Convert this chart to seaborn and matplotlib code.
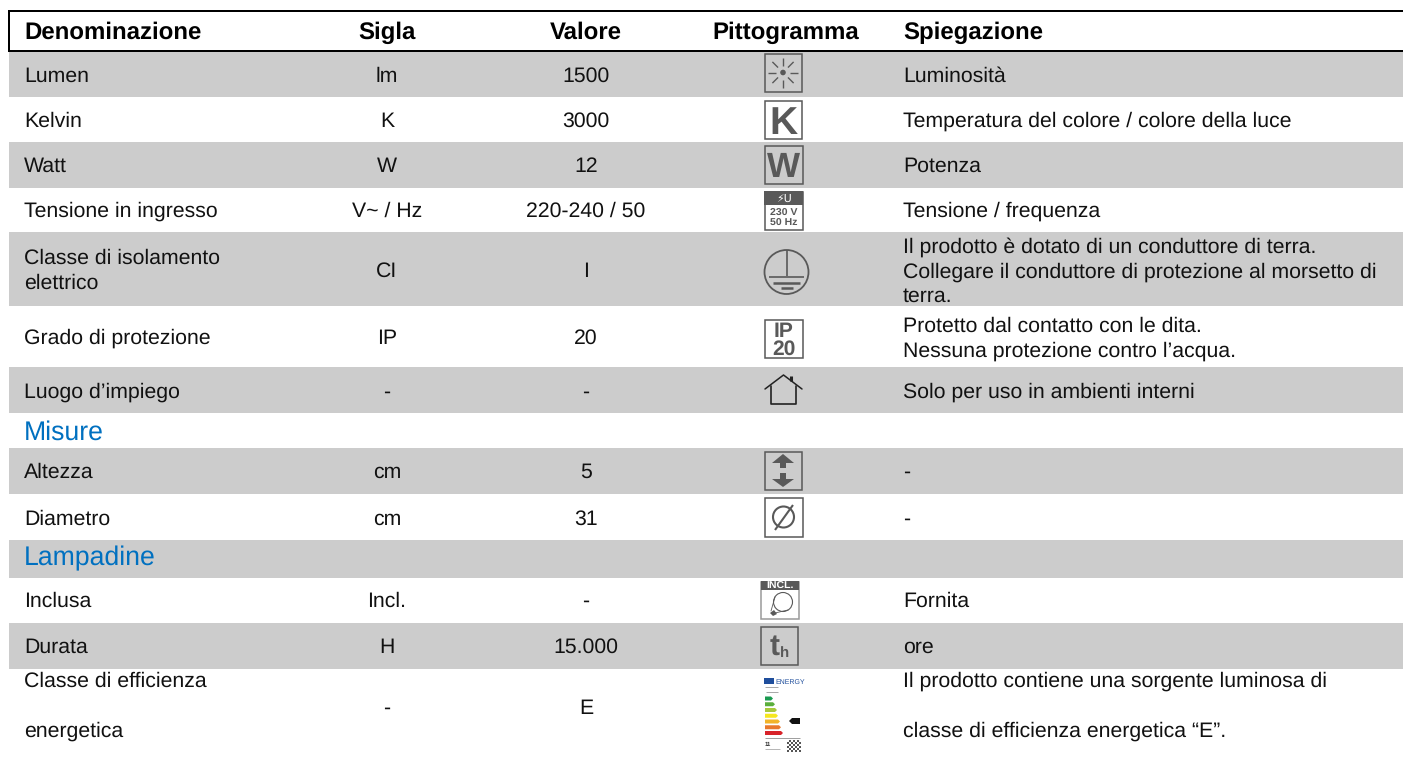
import numpy as np
import matplotlib

matplotlib.use('Agg')
import matplotlib.pyplot as plt
import seaborn as sns
from matplotlib.colors import ListedColormap
from matplotlib.patches import Circle, Polygon, Rectangle

# table content
headers = ['Denominazione', 'Sigla', 'Valore', 'Pittogramma', 'Spiegazione']
names = ['Lumen', 'Kelvin', 'Watt', 'Tensione in ingresso', 'Classe di isolamento\nelettrico',
         'Grado di protezione', 'Luogo d’impiego', 'Altezza', 'Diametro', 'Inclusa', 'Durata',
         'Classe di efficienza\n\nenergetica']
symbols = ['lm', 'K', 'W', 'V~ / Hz', 'CI', 'IP', '-', 'cm', 'cm', 'Incl.', 'H', '-']
values = ['1500', '3000', '12', '220-240 / 50', 'I', '20', '-', '5', '31', '-', '15.000', 'E']
notes = ['Luminosità', 'Temperatura del colore / colore della luce', 'Potenza', 'Tensione / frequenza',
         'Il prodotto è dotato di un conduttore di terra.\nCollegare il conduttore di protezione al morsetto di\nterra.',
         'Protetto dal contatto con le dita.\nNessuna protezione contro l’acqua.',
         'Solo per uso in ambienti interni', '-', '-', 'Fornita', 'ore',
         'Il prodotto contiene una sorgente luminosa di\n\nclasse di efficienza energetica “E”.']
sections = ['Misure', 'Lampadine']

# layout, pixels from the top
row_edges = [0, 52, 97, 142, 188, 232, 306, 367, 413, 448, 494, 540, 578, 623, 669, 760]
row_shade = [0, 1, 0, 1, 0, 1, 0, 1, 0, 1, 0, 1, 0, 1, 0]
name_base = [82, 127, 172, 217, 264, 344, 398, 478, 525, 607, 653, 687]
mid_base = [82, 127, 172, 217, 277, 344, 398, 478, 525, 607, 653, 714]
note_base = [82, 127, 172, 217, 253, 332, 398, 478, 525, 607, 653, 687]
section_base = [440, 565]
line_gap = [0, 0, 0, 0, 25, 0, 0, 0, 0, 0, 0, 25]
note_gap = [0, 0, 0, 0, 24.5, 25, 0, 0, 0, 0, 0, 25]

# energy label bars
bar_colors = ['#1a9a50', '#5aae3c', '#a8c83c', '#f6e71e', '#f2b42a', '#e8782c', '#d8232a']
bar_widths = [8, 10, 12, 13, 15, 16, 18]

GREY = '#595959'
INK = '#111111'
BLUE = '#0070c0'
PX = 72 / 100

sns.set_theme(style='white')
plt.rcParams['font.family'] = ['Liberation Sans', 'DejaVu Sans']
plt.rcParams['text.hinting'] = 'none'

fig = plt.figure(figsize=(14.03, 7.6), dpi=100)
fig.patch.set_facecolor('white')

# grey bands are a one column heatmap, one cell per pixel row
bands = np.repeat(row_shade, np.diff(row_edges)).reshape(-1, 1)
ax_bands = fig.add_axes([9 / 1403, 0, 1 - 9 / 1403, 1])
sns.heatmap(bands, ax=ax_bands, cbar=False, cmap=ListedColormap(['white', '#cccccc']), vmin=0, vmax=1,
            xticklabels=False, yticklabels=False)

ax = fig.add_axes([0, 0, 1, 1])
ax.set_xlim(0, 1403)
ax.set_ylim(760, 0)
ax.axis('off')
ax.patch.set_alpha(0)

# header frame
ax.add_patch(Rectangle((8, 10), 1395, 2, color='black', lw=0))
ax.add_patch(Rectangle((8, 50), 1395, 2, color='black', lw=0))
ax.add_patch(Rectangle((8, 10), 2, 42, color='black', lw=0))


def label(x, y, s, size=21.33, ha='left', **kw):
    ax.text(x, y, s, fontsize=size * PX, ha=ha, va='baseline', color=kw.pop('color', INK), **kw)


def multi(x, y, s, gap, ha='left'):
    for i, part in enumerate(s.split('\n')):
        if part:
            label(x, y + i * gap, part, ha=ha)


for x, s, ha in zip([24, 387, 586, 786, 903], headers, ['left', 'center', 'center', 'center', 'left']):
    label(x, 39, s, size=24, ha=ha, weight='bold', color='black')

for i in range(len(names)):
    multi(24, name_base[i], names[i], line_gap[i])
    label(387, mid_base[i], symbols[i], ha='center')
    label(586, mid_base[i], values[i], ha='center')
    multi(903, note_base[i], notes[i], note_gap[i])

for s, y in zip(sections, section_base):
    label(24, y, s, size=26.67, color=BLUE)


# pictograms
def box(x0, y0, x1, y1, fc='none', ec=GREY, lw=1.1):
    ax.add_patch(Rectangle((x0, y0), x1 - x0, y1 - y0, fc=fc, ec=ec, lw=lw))


def seg(x0, y0, x1, y1, lw=1.3, c=GREY):
    ax.plot([x0, x1], [y0, y1], color=c, lw=lw, solid_capstyle='butt')


# sun
box(764.5, 53.5, 801.5, 91.5)
for a in np.deg2rad(np.arange(0, 360, 45)):
    seg(783 + 7 * np.cos(a), 72.5 + 7 * np.sin(a), 783 + 15 * np.cos(a), 72.5 + 15 * np.sin(a), lw=1.0)
ax.add_patch(Circle((783, 72.5), 2.8, color=GREY, lw=0))

# K and W
box(764.5, 100.5, 801.5, 138.5, fc='white')
ax.text(783, 119.5, 'K', fontsize=39 * PX, weight='bold', color=GREY, ha='center', va='center_baseline')
box(764.5, 145.5, 802.5, 183.5)
ax.text(783.5, 164.5, 'W', fontsize=35 * PX, weight='bold', color=GREY, ha='center', va='center_baseline')

# input voltage
box(764.5, 191.5, 802.5, 229.5, fc='white')
ax.add_patch(Rectangle((764, 191), 39, 14, color=GREY, lw=0))
ax.text(783.5, 202, '⚡U', fontsize=11 * PX, color='white', ha='center', va='baseline',
        family=['DejaVu Sans'])
ax.text(783.5, 216, '230 V', fontsize=10.5 * PX, color=GREY, ha='center', va='baseline', weight='bold')
ax.text(783.5, 226, '50 Hz', fontsize=10.5 * PX, color=GREY, ha='center', va='baseline', weight='bold')

# protective earth
ax.add_patch(Circle((786.5, 272), 22, fc='none', ec=GREY, lw=1.3))
seg(786.5, 250, 786.5, 276, lw=1.2)
seg(769, 276.5, 804, 276.5, lw=1.2)
seg(773, 282.5, 800, 282.5, lw=1.8)
seg(781, 287.5, 793, 287.5, lw=1.8)

# IP 20
box(764.5, 319.5, 802.5, 357.5)
ax.text(783.5, 337, 'IP', fontsize=21 * PX, weight='bold', color=GREY, ha='center', va='baseline')
ax.text(783.5, 355, '20', fontsize=21 * PX, weight='bold', color=GREY, ha='center', va='baseline')

# indoor house
ax.plot([765, 783.5, 802], [389, 375, 389], color='#222222', lw=1.1)
ax.plot([771, 771, 796, 796], [386, 404, 404, 386], color='#222222', lw=1.2)
seg(791, 376, 791, 381, lw=2.2, c='#222222')

# height arrows
box(764.5, 451.5, 801.5, 489.5)
ax.add_patch(Polygon([[783, 454], [794, 463], [772, 463]], color=GREY, lw=0))
ax.add_patch(Rectangle((780, 463), 6, 5, color=GREY, lw=0))
ax.add_patch(Rectangle((780, 473), 6, 6, color=GREY, lw=0))
ax.add_patch(Polygon([[772, 479], [794, 479], [783, 487]], color=GREY, lw=0))

# diameter
box(764.5, 497.5, 802.5, 536.5, fc='white')
ax.add_patch(Circle((783.5, 517), 10.5, fc='none', ec=GREY, lw=1.5))
seg(775, 530, 793, 505, lw=1.5)

# bulb included
box(761, 581.5, 798.5, 618.5, fc='white', ec='#9a9a9a')
ax.add_patch(Rectangle((761, 581), 38, 9, color=GREY, lw=0))
ax.text(780, 589, 'INCL.', fontsize=10.5 * PX, weight='bold', color='white', ha='center', va='baseline')
ax.add_patch(Circle((783, 602), 9.5, fc='none', ec=GREY, lw=0.8))
ax.add_patch(Polygon([[770, 613], [774, 610], [777, 614], [773, 616]], color=GREY, lw=0))
ax.plot([775, 771], [597, 611], color=GREY, lw=0.6)
ax.plot([788, 775], [610, 613], color=GREY, lw=0.6)

# lifetime
box(760.5, 626.5, 797.5, 664.5)
ax.text(775, 655, 't', fontsize=30 * PX, weight='bold', color=GREY, ha='center', va='baseline')
ax.text(784.5, 657, 'h', fontsize=15 * PX, weight='bold', color=GREY, ha='center', va='baseline')

# energy label
ax.add_patch(Rectangle((764, 678), 10, 6, color='#1f4e9c', lw=0))
ax.text(775, 684, 'ENERGY', fontsize=7 * PX, color='#1f4e9c', ha='left', va='baseline')
seg(765, 687, 778, 687, lw=0.6, c='#999999')
seg(766, 691.5, 778, 691.5, lw=0.6, c='#999999')
for i, (c, w) in enumerate(zip(bar_colors, bar_widths)):
    y = 696.5 + i * 5.75
    ax.add_patch(Polygon([[765, y], [765 + w - 2, y], [765 + w, y + 2], [765 + w - 2, y + 4], [765, y + 4]],
                         color=c, lw=0))
ax.add_patch(Polygon([[789, 721], [792, 718], [800, 718], [800, 724], [792, 724]], color='#111111', lw=0))
seg(765, 738, 800, 738, lw=0.5, c='#777777')
ax.text(765, 746, '11', fontsize=6 * PX, weight='bold', color='#333333', ha='left', va='baseline')
seg(765, 749, 780, 749, lw=0.5, c='#999999')
for qx in range(787, 800, 2):
    for qy in range(740, 751, 2):
        if (qx * 3 + qy * 5) % 4 != 1:
            ax.add_patch(Rectangle((qx, qy), 2, 2, color='#555555', lw=0))

fig.savefig('out.png', dpi=100)
